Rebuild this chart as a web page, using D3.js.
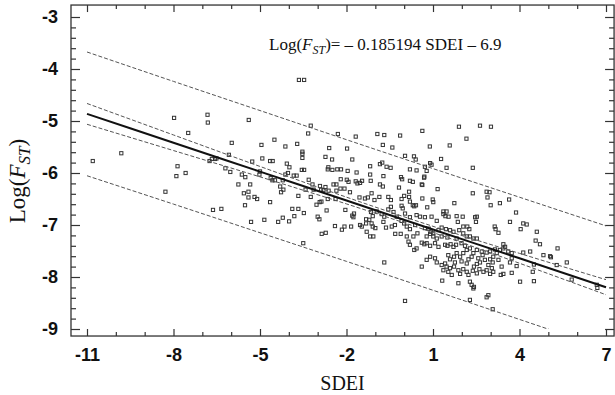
<!DOCTYPE html>
<html>
<head>
<meta charset="utf-8">
<script src="https://cdn.jsdelivr.net/npm/d3@7"></script>
<style>
  body { margin: 0; background: #fff; }
  svg { display: block; }
</style>
</head>
<body>
<svg width="615" height="395"></svg>
<script>
"use strict";

// Axis ticks
const xTicks = [-11, -8, -5, -2, 1, 4, 7];
const yTicks = [-3, -4, -5, -6, -7, -8, -9];

// Regression: Log(FST) = slope * SDEI + intercept
const slope = -0.185194;
const intercept = -6.9;

// Half widths of the dashed bands
const bandX = [-11, -8, -5, -2, 1, 4, 7];
const confHalf = [0.20, 0.15, 0.10, 0.065, 0.06, 0.095, 0.145];
const predHalf = [1.19, 1.18, 1.175, 1.17, 1.17, 1.175, 1.18];

// Scatter points [SDEI, Log(FST)]
const pointsWest = [
  [-10.80, -5.77], [-9.81, -5.62], [-7.98, -4.94], [-6.82, -4.88], [-6.81, -5.03],
  [-5.39, -4.98], [-7.49, -5.23], [-5.98, -5.42], [-7.86, -5.87], [-7.90, -6.06],
  [-7.58, -6.00], [-8.28, -6.36], [-6.75, -5.77], [-6.67, -5.73], [-6.56, -5.73],
  [-6.51, -5.72], [-6.08, -5.65], [-6.20, -5.91], [-6.03, -5.98], [-6.63, -6.71],
  [-6.34, -6.69], [-5.75, -6.22], [-5.56, -6.39], [-5.40, -6.36], [-5.63, -6.03],
  [-5.51, -6.08], [-5.34, -6.22], [-5.40, -6.47], [-5.19, -6.46], [-5.10, -6.50],
  [-5.52, -6.62], [-5.31, -6.94], [-5.27, -5.78], [-4.95, -5.46], [-4.92, -5.72],
  [-5.00, -5.97], [-5.02, -6.03], [-4.65, -5.77], [-4.56, -5.77], [-4.50, -5.36],
  [-4.12, -5.49], [-3.71, -5.44], [-3.53, -5.59], [-3.53, -5.63], [-3.53, -5.71],
  [-4.07, -5.82], [-3.98, -5.89], [-4.12, -6.03], [-4.03, -6.00], [-3.83, -6.05],
  [-3.73, -6.05], [-4.57, -6.14], [-4.48, -6.14], [-4.63, -6.10], [-4.21, -6.14],
  [-4.19, -6.32], [-4.27, -6.37], [-4.30, -6.26], [-4.65, -6.56], [-4.85, -6.90],
  [-4.37, -6.94], [-4.21, -6.86], [-3.99, -6.93], [-3.81, -6.83], [-3.88, -6.69],
  [-3.67, -6.69], [-3.48, -6.77], [-3.67, -6.44], [-3.42, -6.32], [-3.24, -6.46],
  [-3.14, -6.32], [-3.18, -6.22], [-3.31, -6.13], [-3.47, -5.94], [-3.55, -5.94],
  [-3.24, -5.09], [-3.33, -5.24], [-3.65, -4.21], [-3.47, -4.21], [-3.50, -7.35]
];
const pointsMiddle = [
  [-2.30, -5.25], [-2.60, -5.52], [-2.73, -5.69], [-2.50, -5.74], [-2.63, -5.89],
  [-2.65, -5.93], [-2.49, -5.94], [-2.32, -5.93], [-2.19, -5.93], [-1.96, -5.96],
  [-2.20, -6.12], [-2.35, -6.22], [-2.45, -6.22], [-1.99, -6.13], [-1.93, -6.17],
  [-2.92, -6.25], [-2.73, -6.27], [-2.88, -6.32], [-2.80, -6.33], [-2.62, -6.34],
  [-2.35, -6.34], [-2.21, -6.30], [-2.07, -6.30], [-2.87, -6.55], [-2.93, -6.56],
  [-2.65, -6.50], [-2.38, -6.50], [-3.04, -6.61], [-3.00, -6.84], [-2.94, -6.89],
  [-2.69, -6.72], [-2.04, -6.71], [-2.40, -7.02], [-2.16, -7.09], [-2.07, -7.03],
  [-2.86, -7.17], [-2.72, -7.15], [-1.98, -5.53],
  [-1.68, -5.30], [-0.93, -5.25], [-0.69, -5.27], [-0.14, -5.28], [0.63, -5.19],
  [1.90, -5.11], [2.63, -5.09], [3.01, -5.11], [2.16, -5.34], [1.58, -5.47],
  [0.89, -5.49], [-0.41, -5.51], [-0.74, -5.46], [0.03, -5.67], [0.34, -5.68],
  [0.40, -5.74], [0.90, -5.81], [0.95, -5.84], [1.28, -5.73], [1.47, -5.90],
  [2.38, -5.90], [-0.84, -5.83], [-0.76, -5.80], [-0.61, -5.88], [-0.47, -5.90],
  [0.20, -5.93], [0.43, -5.95], [0.72, -5.88], [0.78, -5.96], [0.70, -6.07],
  [-1.18, -5.87], [-1.80, -5.74], [-1.65, -5.99], [-1.18, -6.03], [-0.72, -6.06],
  [-0.11, -6.08], [-0.07, -6.12], [0.20, -6.15], [0.30, -6.17], [0.69, -6.09],
  [0.61, -6.22], [1.16, -6.31], [-1.68, -6.16], [-1.62, -6.20], [-1.53, -6.19],
  [-1.46, -6.15], [-1.16, -6.15], [-0.84, -6.22], [-0.74, -6.26], [-0.18, -6.28],
  [0.17, -6.36], [0.63, -6.23], [-1.88, -6.37], [-1.55, -6.47], [-1.36, -6.49],
  [-1.26, -6.47], [-1.13, -6.39], [-1.03, -6.52], [-0.86, -6.46], [-0.55, -6.46],
  [-0.46, -6.52], [-0.09, -6.50], [0.00, -6.44], [0.17, -6.46], [0.20, -6.55],
  [0.30, -6.62], [0.35, -6.64], [0.41, -6.62], [0.63, -6.49], [0.99, -6.51],
  [1.01, -6.56], [0.80, -6.66], [1.74, -6.58], [2.38, -6.39], [2.86, -6.36],
  [2.96, -6.37], [2.89, -6.47], [3.00, -6.62], [3.32, -6.58], [3.64, -6.51]
];
const pointsLower = [
  [-1.80, -6.82], [-1.76, -6.85], [-1.74, -6.78], [-1.32, -6.89], [-1.21, -6.90],
  [-1.15, -6.75], [-1.09, -6.83], [-0.95, -6.74], [-0.78, -6.79], [-0.69, -6.84],
  [-0.55, -6.70], [-0.46, -6.65], [-0.37, -6.75], [-0.26, -6.84], [-0.09, -6.63],
  [-0.05, -6.68], [0.03, -6.78], [0.20, -6.85], [0.43, -6.81], [0.55, -6.84],
  [0.72, -6.85], [0.95, -6.84], [1.13, -6.92], [1.36, -6.74], [1.47, -6.74],
  [1.36, -6.79], [1.43, -6.83], [1.54, -6.84], [1.82, -6.83], [2.03, -6.84],
  [1.86, -6.94], [2.05, -7.03], [2.19, -7.03], [2.26, -7.08], [2.46, -6.85],
  [2.52, -6.84], [2.49, -6.94], [3.67, -6.94], [3.88, -6.76], [4.13, -6.97],
  [4.25, -6.99], [4.04, -7.08], [4.60, -7.13], [3.27, -7.15], [3.17, -7.08],
  [3.14, -7.03], [-1.84, -7.03], [-1.53, -7.00], [-1.47, -7.03], [-1.32, -6.97],
  [-1.13, -6.97], [-1.09, -7.03], [-1.00, -7.06], [-0.72, -6.94], [-0.63, -7.05],
  [-0.43, -7.03], [-0.32, -7.00], [-0.09, -6.92], [0.00, -6.97], [0.09, -7.03],
  [0.20, -7.08], [0.38, -7.00], [0.46, -7.16], [0.72, -7.06], [0.85, -7.07],
  [0.92, -7.13], [1.01, -7.16], [1.19, -7.10], [1.30, -7.05], [1.45, -7.08],
  [1.59, -7.10], [1.71, -7.13], [1.91, -7.10], [2.05, -7.16], [2.17, -7.22],
  [-1.18, -7.22], [-1.07, -7.22], [-1.30, -7.13], [-0.31, -7.17], [-0.12, -7.17],
  [0.09, -7.22], [0.32, -7.22], [0.78, -7.22], [0.90, -7.17], [1.01, -7.22],
  [1.13, -7.26], [1.30, -7.22], [1.50, -7.24], [1.82, -7.26], [2.28, -7.22],
  [2.40, -7.26], [2.52, -7.26]
];
const pointsEast = [
  [0.15, -7.32], [0.20, -7.38], [0.35, -7.48], [0.43, -7.45], [0.61, -7.34],
  [0.70, -7.37], [0.78, -7.35], [0.90, -7.40], [1.07, -7.35], [1.19, -7.42],
  [1.42, -7.38], [1.50, -7.40], [1.61, -7.37], [1.71, -7.42], [1.80, -7.38],
  [1.99, -7.35], [2.11, -7.40], [2.17, -7.48], [2.28, -7.45], [2.52, -7.48],
  [2.69, -7.51], [2.86, -7.53], [2.98, -7.51], [3.15, -7.47], [3.32, -7.48],
  [3.44, -7.45], [3.61, -7.51], [3.73, -7.54], [4.13, -7.53], [4.37, -7.51],
  [4.83, -7.58], [5.06, -7.60], [5.32, -7.45], [4.56, -7.30], [4.71, -7.37],
  [3.44, -7.37], [3.50, -7.42], [0.61, -7.80], [0.78, -7.67], [0.90, -7.61],
  [1.07, -7.64], [1.13, -7.72], [1.30, -7.77], [1.42, -7.74], [1.47, -7.80],
  [1.53, -7.58], [1.59, -7.66], [1.73, -7.61], [1.76, -7.72], [1.82, -7.54],
  [1.94, -7.61], [1.99, -7.70], [2.05, -7.54], [2.17, -7.74], [2.23, -7.66],
  [2.34, -7.61], [2.40, -7.54], [2.52, -7.75], [2.57, -7.64], [2.63, -7.72],
  [2.72, -7.58], [2.80, -7.67], [2.92, -7.77], [2.98, -7.66], [3.07, -7.72],
  [3.09, -7.61], [3.21, -7.54], [3.27, -7.67], [3.38, -7.80], [3.67, -7.72],
  [3.73, -7.64], [3.90, -7.79], [4.46, -7.90], [4.50, -7.76], [5.09, -7.62],
  [5.29, -7.77], [5.64, -7.72], [5.81, -8.05], [6.68, -8.15], [6.70, -8.21],
  [1.36, -7.87], [1.53, -7.90], [1.59, -7.83], [1.65, -7.96], [1.73, -7.80],
  [1.88, -7.87], [1.94, -7.94], [2.05, -7.85], [2.17, -7.90], [2.23, -7.96],
  [2.38, -7.88], [2.42, -7.80], [2.52, -7.93], [2.61, -7.85], [2.75, -7.90],
  [2.86, -7.87], [2.98, -7.94], [3.04, -7.83], [3.09, -7.90], [3.35, -7.96],
  [3.44, -7.94], [3.73, -7.92], [1.88, -8.12], [2.28, -8.09], [2.34, -8.15],
  [2.40, -8.22], [2.42, -8.19], [4.02, -8.09], [4.50, -8.08], [1.32, -8.07],
  [2.92, -8.35], [2.86, -8.39], [2.28, -8.44], [3.07, -8.62], [0.03, -8.46],
  [-0.69, -7.72]
];

// Plot frame extends a little past the outer ticks
const xFrame = [-11.555, 7.28];
const yFrame = [-2.77, -9.135];

const svg = d3.select("svg");

const x = d3.scaleLinear().domain([-11, 7]).range([87, 606]);
const y = d3.scaleLinear().domain([-3, -9]).range([17, 329]);

const frameLeft = x(xFrame[0]), frameRight = x(xFrame[1]);
const frameTop = y(yFrame[0]), frameBottom = y(yFrame[1]);

const xMinor = d3.range(-11, 7.01, 1).filter(v => !xTicks.includes(v));
const yMinor = d3.range(-9, -2.99, 0.2).map(v => +v.toFixed(1)).filter(v => !yTicks.includes(v));

// Draw inward ticks on one side of the frame
function drawTicks(axisFn, scale, values, size, pos, labels) {
  const g = svg.append("g")
    .attr("transform", pos)
    .call(axisFn(scale).tickValues(values).tickSize(-size)
      .tickPadding(labels ? (axisFn === d3.axisBottom ? 12 : 13) : 0)
      .tickFormat(labels ? (d => String(d)) : ""));
  g.select(".domain").remove();
  g.selectAll(".tick line").attr("stroke", "#333").attr("stroke-width", 1.2);
  g.selectAll(".tick text")
    .attr("fill", "#111")
    .style("font-family", "'Liberation Sans', Arial, sans-serif")
    .style("font-weight", "bold")
    .style("font-size", "18px");
  return g;
}

drawTicks(d3.axisBottom, x, xTicks, 7, `translate(0,${frameBottom})`, true);
drawTicks(d3.axisBottom, x, xMinor, 4, `translate(0,${frameBottom})`, false);
drawTicks(d3.axisTop, x, xTicks, 7, `translate(0,${frameTop})`, false);
drawTicks(d3.axisTop, x, xMinor, 4, `translate(0,${frameTop})`, false);
drawTicks(d3.axisLeft, y, yTicks, 9, `translate(${frameLeft},0)`, true);
drawTicks(d3.axisLeft, y, yMinor, 5, `translate(${frameLeft},0)`, false);
drawTicks(d3.axisRight, y, yTicks, 9, `translate(${frameRight},0)`, false);
drawTicks(d3.axisRight, y, yMinor, 5, `translate(${frameRight},0)`, false);

// frame
svg.append("rect")
  .attr("x", frameLeft).attr("y", frameTop)
  .attr("width", frameRight - frameLeft).attr("height", frameBottom - frameTop)
  .attr("fill", "none").attr("stroke", "#333").attr("stroke-width", 1.3);

// clip for the lower prediction band (it stops at -9)
svg.append("defs").append("clipPath").attr("id", "clip9")
  .append("rect")
  .attr("x", frameLeft).attr("y", frameTop)
  .attr("width", frameRight - frameLeft).attr("height", y(-9) - frameTop);

// scatter
const allPoints = pointsWest.concat(pointsMiddle, pointsLower, pointsEast);
const sq = 3.2;
svg.append("g")
  .selectAll("rect")
  .data(allPoints)
  .join("rect")
  .attr("x", d => x(d[0]) - sq / 2)
  .attr("y", d => y(d[1]) - sq / 2)
  .attr("width", sq)
  .attr("height", sq)
  .attr("fill", "none")
  .attr("stroke", "#333")
  .attr("stroke-width", 1);

// bands
const fit = v => slope * v + intercept;
const band = (half, sign) => bandX.map((v, i) => [v, fit(v) + sign * half[i]]);
const line = d3.line().x(d => x(d[0])).y(d => y(d[1])).curve(d3.curveMonotoneX);

const bands = [
  { data: band(confHalf, 1), clip: false },
  { data: band(confHalf, -1), clip: false },
  { data: band(predHalf, 1), clip: false },
  { data: band(predHalf, -1), clip: true }
];
svg.append("g")
  .selectAll("path")
  .data(bands)
  .join("path")
  .attr("d", d => line(d.data))
  .attr("clip-path", d => d.clip ? "url(#clip9)" : null)
  .attr("fill", "none")
  .attr("stroke", "#555")
  .attr("stroke-width", 1)
  .attr("stroke-dasharray", "4,2");

// regression line
svg.append("path")
  .attr("d", line(bandX.map(v => [v, fit(v)])))
  .attr("fill", "none")
  .attr("stroke", "#111")
  .attr("stroke-width", 2);

// equation
const eq = svg.append("text")
  .attr("x", 269).attr("y", 50)
  .style("font-family", "'Liberation Serif', 'Times New Roman', serif")
  .style("font-size", "17px")
  .attr("fill", "#111");
eq.append("tspan").text("Log(");
eq.append("tspan").attr("font-style", "italic").text("F");
eq.append("tspan").attr("font-style", "italic").attr("font-size", "12px").attr("dy", 4).text("ST");
eq.append("tspan").attr("dy", -4).text(`)= \u2013 ${Math.abs(slope)} SDEI \u2013 ${Math.abs(intercept)}`);

// axis titles
svg.append("text")
  .attr("x", (frameLeft + frameRight) / 2).attr("y", 390)
  .attr("text-anchor", "middle")
  .style("font-family", "'Liberation Serif', 'Times New Roman', serif")
  .style("font-size", "20px")
  .attr("fill", "#111")
  .text("SDEI");

const yl = svg.append("text")
  .attr("transform", `translate(25,181) rotate(-90)`)
  .attr("text-anchor", "middle")
  .style("font-family", "'Liberation Serif', 'Times New Roman', serif")
  .style("font-size", "23px")
  .attr("fill", "#111");
yl.append("tspan").text("Log(");
yl.append("tspan").attr("font-style", "italic").text("F");
yl.append("tspan").attr("font-style", "italic").attr("font-size", "17px").attr("dy", 5).text("ST");
yl.append("tspan").attr("dy", -5).text(")");
</script>
</body>
</html>
